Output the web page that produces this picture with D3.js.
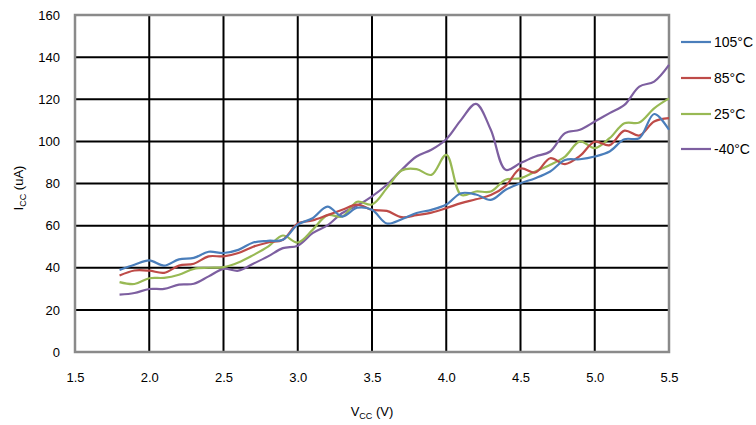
<!DOCTYPE html>
<html>
<head>
<meta charset="utf-8">
<script src="https://cdn.jsdelivr.net/npm/d3@7"></script>
<style>
  html, body { margin: 0; padding: 0; background: #fff; }
  svg { display: block; font-family: "Liberation Sans", Arial, sans-serif; }
</style>
</head>
<body>
<svg id="chart" width="756" height="425"></svg>
<script>
const vcc = [1.8,1.9,2.0,2.1,2.2,2.3,2.4,2.5,2.6,2.7,2.8,2.9,3.0,3.1,3.2,3.3,3.4,3.5,3.6,3.7,3.8,3.9,4.0,4.1,4.2,4.3,4.4,4.5,4.6,4.7,4.8,4.9,5.0,5.1,5.2,5.3,5.4,5.5];
const i105 = [39,41.4,43.5,41,44,44.7,47.6,47,48.5,52,52.8,53.3,60.5,63.5,69,64.3,68.5,67.5,61,63,66,67.5,70,75.4,74.8,72.2,77,80.1,82.5,85.7,91.2,91.5,92.8,95.2,101,101.5,113,105.5];
const i85 = [36.3,38.7,38.6,37.6,41,41.9,45.4,45.4,47,50,52,53.3,61,62.5,65,67.5,70,67.5,67,64,65,66.2,68.3,70.7,72.5,74.5,78.9,87.1,85.2,92,89.2,93.1,99.8,98.2,105.1,102.8,109.4,111];
const i25 = [33.2,32.3,35,35.2,36.7,39.5,40,40.3,42.5,46,50,55.3,52,58,65,64.3,71.3,70,77.8,86.2,86.8,84.1,93.6,74.6,76.2,76.2,81.8,82.5,85.7,88.9,92.8,100,96.8,101.5,108.6,109,115.7,120.4];
const im40 = [27.2,28,29.9,30,32,32.4,35.9,39.5,38.6,41.9,45.4,49.3,50.5,56.4,60.1,66,69.5,73.9,79.4,86.5,92.8,96,101,110.2,117.8,105.5,86.5,89.7,92.8,95.2,103.9,105.5,109.4,113.4,117.3,126,128.4,136.3];
const seriesNames = ["105°C","85°C","25°C","-40°C"];
const seriesColors = ["#4a7ebb","#be4b48","#98b954","#7d5fa0"];
const xTicks = [1.5,2.0,2.5,3.0,3.5,4.0,4.5,5.0,5.5];
const xTickLabels = ["1.5","2.0","2.5","3.0","3.5","4.0","4.5","5.0","5.5"];
const yTicks = [0,20,40,60,80,100,120,140,160];

const svg = d3.select("#chart");
const x = d3.scaleLinear().domain([1.5,5.5]).range([75,669]);
const y = d3.scaleLinear().domain([0,160]).range([352,15]);

// gridlines
const grid = svg.append("g");
grid.selectAll("line.h").data(yTicks.slice(1,-1)).enter().append("line")
  .attr("x1", x(1.5)).attr("x2", x(5.5))
  .attr("y1", d => y(d)).attr("y2", d => y(d))
  .attr("stroke", "#000").attr("stroke-width", 2);
grid.selectAll("line.v").data(xTicks.slice(1,-1)).enter().append("line")
  .attr("x1", d => x(d)).attr("x2", d => x(d))
  .attr("y1", y(0)).attr("y2", y(160))
  .attr("stroke", "#000").attr("stroke-width", 2);

// frame
svg.append("rect")
  .attr("x", x(1.5)).attr("y", y(160))
  .attr("width", x(5.5) - x(1.5)).attr("height", y(0) - y(160))
  .attr("fill", "none").attr("stroke", "#8a8a8a").attr("stroke-width", 2.5);

// axes labels
const yAxis = d3.axisLeft(y).tickValues(yTicks).tickSize(0).tickPadding(15);
const gy = svg.append("g").attr("transform", `translate(${x(1.5)},0)`).call(yAxis);
gy.select(".domain").remove();
gy.selectAll("text").attr("font-size", 13).attr("fill", "#000").attr("font-family", "Liberation Sans, Arial, sans-serif");

const xAxis = d3.axisBottom(x).tickValues(xTicks).tickFormat((d,i) => xTickLabels[i]).tickSize(0).tickPadding(21);
const gx = svg.append("g").attr("transform", `translate(0,${y(0)})`).call(xAxis);
gx.select(".domain").remove();
gx.selectAll("text").attr("font-size", 13).attr("fill", "#000").attr("font-family", "Liberation Sans, Arial, sans-serif");

// axis titles
const xt = svg.append("text").attr("x", 372).attr("y", 416).attr("text-anchor", "middle")
  .attr("font-size", 13).attr("fill", "#000");
xt.append("tspan").text("V");
xt.append("tspan").text("CC").attr("font-size", 9).attr("dy", 3);
xt.append("tspan").text(" (V)").attr("dy", -3);

const yt = svg.append("text").attr("transform", "translate(23,188) rotate(-90)").attr("text-anchor", "middle")
  .attr("font-size", 13).attr("fill", "#000");
yt.append("tspan").text("I");
yt.append("tspan").text("CC").attr("font-size", 9).attr("dy", 3);
yt.append("tspan").text(" (uA)").attr("dy", -3);

// series
const allSeries = [i105, i85, i25, im40];
const line = d3.line().x((d,i) => x(vcc[i])).y(d => y(d)).curve(d3.curveCatmullRom.alpha(0.5));
const plot = svg.append("g");
allSeries.slice().reverse().forEach((s, k) => {
  const idx = allSeries.length - 1 - k;
  plot.append("path").datum(s).attr("d", line)
    .attr("fill", "none").attr("stroke", seriesColors[idx]).attr("stroke-width", 2.2)
    .attr("stroke-linejoin", "round");
});

// legend
const legendY = [42, 78, 114, 149];
const lg = svg.append("g");
seriesNames.forEach((name, i) => {
  lg.append("line").attr("x1", 681).attr("x2", 711).attr("y1", legendY[i]).attr("y2", legendY[i])
    .attr("stroke", seriesColors[i]).attr("stroke-width", 2.2);
  lg.append("text").attr("x", 714).attr("y", legendY[i]).attr("dy", "0.35em")
    .attr("font-size", 14).attr("fill", "#000").text(name);
});
</script>
</body>
</html>
